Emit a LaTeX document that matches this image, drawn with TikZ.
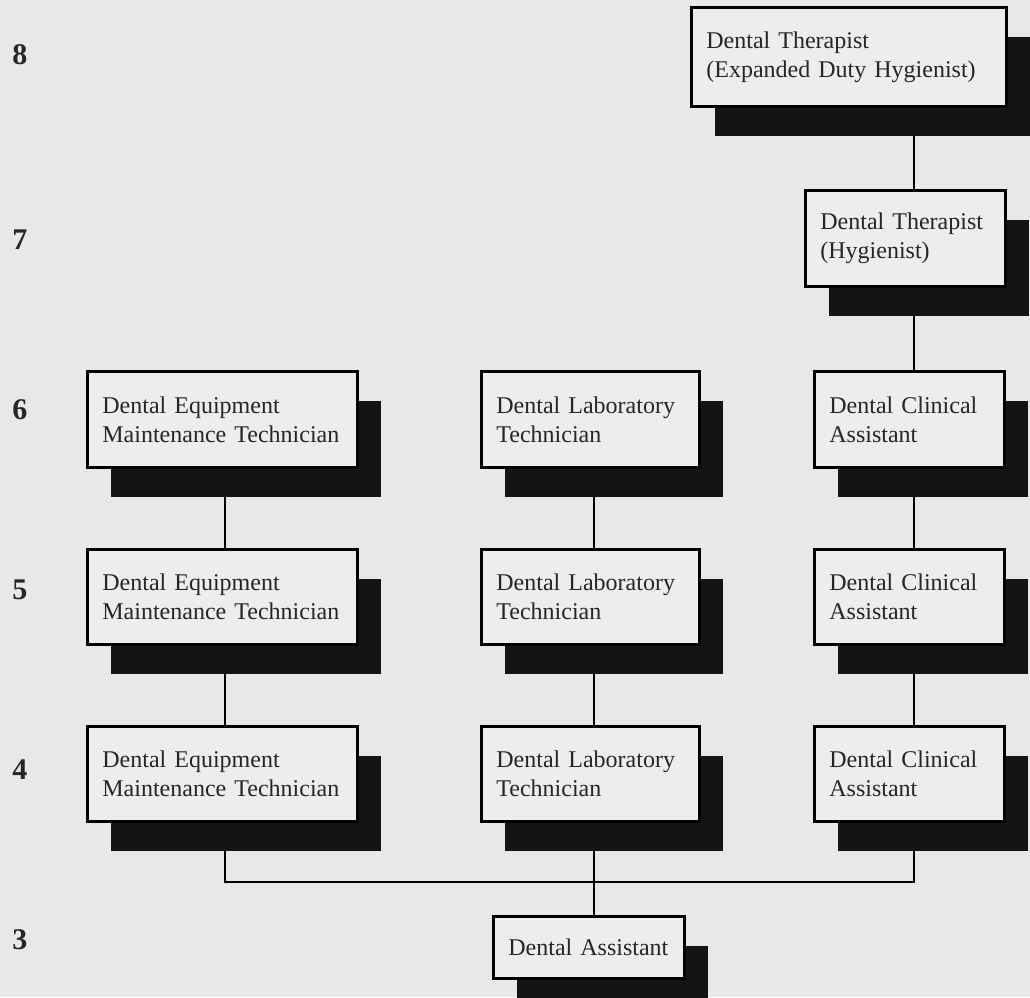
\documentclass[tikz,border=0pt]{standalone}
\usepackage{fontspec}
\setmainfont{Liberation Serif}
\usetikzlibrary{shadows}

\definecolor{paper}{RGB}{232,232,232}
\definecolor{card}{RGB}{237,237,237}

\pgfdeclarelayer{paperlayer}
\pgfdeclarelayer{wirelayer}
\pgfsetlayers{paperlayer,wirelayer,main}

\tikzstyle{job}=[draw,line width=2.8pt,fill=card,anchor=north west,align=left,
  inner xsep=15pt,inner ysep=0pt,text=black!85,font=\fontsize{24}{29}\selectfont,
  drop shadow={shadow xshift=24pt,shadow yshift=-30pt,fill=black!92,opacity=1}]
\tikzstyle{lvl}=[text=black!85,font=\fontsize{30}{30}\selectfont\bfseries]
\tikzstyle{wire}=[draw,line width=2.2pt,-]

\begin{document}
\begin{tikzpicture}[x=1pt,y=-1pt]
	\begin{pgfonlayer}{paperlayer}
		\fill[paper] (0,0) rectangle (1030,997);
	\end{pgfonlayer}
	\useasboundingbox (0,0) rectangle (1030,997);
	\clip (0,0) rectangle (1030,997);

		% level numbers
		\node [lvl] (lvl8) at (20, 55)  {8};
		\node [lvl] (lvl7) at (20,240)  {7};
		\node [lvl] (lvl6) at (20,410)  {6};
		\node [lvl] (lvl5) at (20,590)  {5};
		\node [lvl] (lvl4) at (20,770)  {4};
		\node [lvl] (lvl3) at (20,940)  {3};

		% posts
		\node [job,text width=285pt,minimum height=99pt] (dt8)  at (690,  6) {Dental Therapist\\(Expanded Duty Hygienist)};
		\node [job,text width=170pt,minimum height=96pt] (dt7)  at (804,189) {Dental Therapist\\(Hygienist)};
		\node [job,text width=240pt,minimum height=96pt] (dem6) at ( 86,370) {Dental Equipment\\Maintenance Technician};
		\node [job,text width=188pt,minimum height=96pt] (dlt6) at (480,370) {Dental Laboratory\\Technician};
		\node [job,text width=160pt,minimum height=96pt] (dca6) at (813,370) {Dental Clinical\\Assistant};
		\node [job,text width=240pt,minimum height=95pt] (dem5) at ( 86,548) {Dental Equipment\\Maintenance Technician};
		\node [job,text width=188pt,minimum height=95pt] (dlt5) at (480,548) {Dental Laboratory\\Technician};
		\node [job,text width=160pt,minimum height=95pt] (dca5) at (813,548) {Dental Clinical\\Assistant};
		\node [job,text width=240pt,minimum height=95pt] (dem4) at ( 86,725) {Dental Equipment\\Maintenance Technician};
		\node [job,text width=188pt,minimum height=95pt] (dlt4) at (480,725) {Dental Laboratory\\Technician};
		\node [job,text width=160pt,minimum height=95pt] (dca4) at (813,725) {Dental Clinical\\Assistant};
		\node [job,text width=161pt,minimum height=62pt] (da3)  at (492,915) {Dental Assistant};

		% where the lines run
		\coordinate (colL) at (225,0);
		\coordinate (colM) at (594,0);
		\coordinate (colR) at (914,0);
		\coordinate (bus)  at (0,882);

	\begin{pgfonlayer}{wirelayer}
		\draw [wire] (dt8.south -| colR)  -- (dt7.north -| colR);
		\draw [wire] (dt7.south -| colR)  -- (dca6.north -| colR);
		\draw [wire] (dca6.south -| colR) -- (dca5.north -| colR);
		\draw [wire] (dca5.south -| colR) -- (dca4.north -| colR);
		\draw [wire] (dlt6.south -| colM) -- (dlt5.north -| colM);
		\draw [wire] (dlt5.south -| colM) -- (dlt4.north -| colM);
		\draw [wire] (dem6.south -| colL) -- (dem5.north -| colL);
		\draw [wire] (dem5.south -| colL) -- (dem4.north -| colL);
		\draw [wire] (dem4.south -| colL) -- (bus -| colL) -- (bus -| colR) -- (dca4.south -| colR);
		\draw [wire] (dlt4.south -| colM) -- (da3.north -| colM);
	\end{pgfonlayer}
\end{tikzpicture}
\end{document}
